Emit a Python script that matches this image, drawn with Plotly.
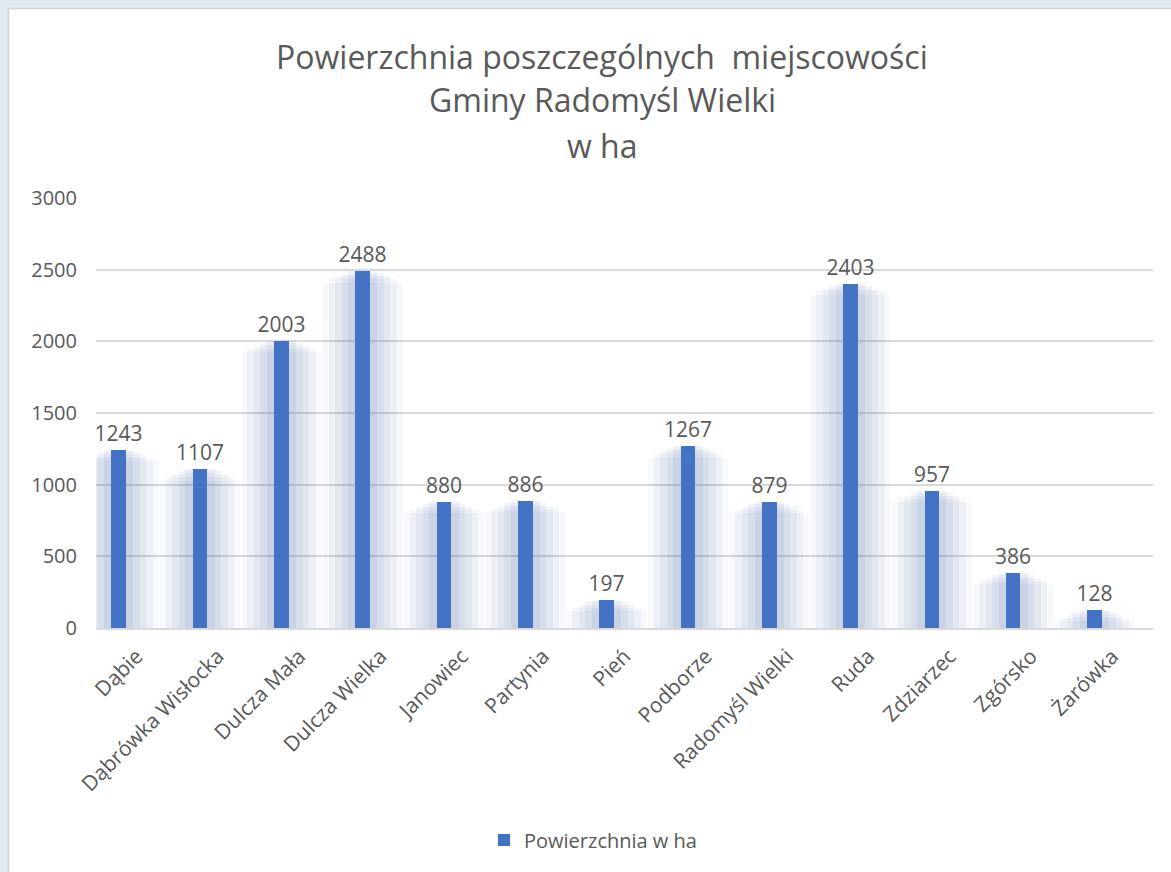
import plotly.graph_objects as go

miejscowosci = ["Dąbie", "Dąbrówka Wisłocka", "Dulcza Mała", "Dulcza Wielka", "Janowiec",
                "Partynia", "Pień", "Podborze", "Radomyśl Wielki", "Ruda", "Zdziarzec",
                "Zgórsko", "Żarówka"]
powierzchnia = [1243, 1107, 2003, 2488, 880, 886, 197, 1267, 879, 2403, 957, 386, 128]
y_ticks = [0, 500, 1000, 1500, 2000, 2500, 3000]

FONT = "Open Sans"
TXT = "#595959"
BAR_W = 0.18
BAR_C = -0.22  # środek słupka względem środka kategorii

# obszar wykresu w pikselach (do przeliczeń ramki)
L, R, T, B = 96, 1153, 198, 628
W, H = 1171, 872

fig = go.Figure()

# poświata (cień) wokół słupków - szersze warstwy trochę niższe, żeby się rozmywało
for w, a, cut in [(0.98, 0.05, 80), (0.84, 0.06, 55), (0.68, 0.07, 35), (0.52, 0.08, 15), (0.36, 0.09, 0)]:
    fig.add_trace(go.Bar(
        x=miejscowosci, y=[max(v - cut, 0) for v in powierzchnia],
        width=w, offset=BAR_C - w / 2,
        marker=dict(color="rgba(85,115,175,%s)" % a, line=dict(width=0)),
        showlegend=False, hoverinfo="skip",
    ))

fig.add_trace(go.Bar(
    x=miejscowosci, y=powierzchnia,
    width=BAR_W, offset=BAR_C - BAR_W / 2,
    marker=dict(color="#4472C4", line=dict(width=0)),
    text=powierzchnia, textposition="outside", cliponaxis=False, constraintext="none",
    textfont=dict(family=FONT, size=21, color=TXT),
    name="Powierzchnia w ha",
))

def px_x(p):
    return (p - L) / (R - L)

def px_y(p):
    return (B - p) / (B - T)

shapes = [
    # ramka okna u góry i z lewej
    dict(type="rect", xref="paper", yref="paper", x0=px_x(0), x1=px_x(W), y0=px_y(8), y1=px_y(0),
         fillcolor="#e3e9f3", line=dict(width=0), layer="below"),
    dict(type="rect", xref="paper", yref="paper", x0=px_x(0), x1=px_x(8), y0=px_y(H), y1=px_y(0),
         fillcolor="#e3e9f3", line=dict(width=0), layer="below"),
    dict(type="line", xref="paper", yref="paper", x0=px_x(8), x1=px_x(W), y0=px_y(8.5), y1=px_y(8.5),
         line=dict(color="#d4d4d4", width=1.5)),
    dict(type="line", xref="paper", yref="paper", x0=px_x(8.5), x1=px_x(8.5), y0=px_y(8), y1=px_y(H),
         line=dict(color="#d4d4d4", width=1.5)),
]

annotations = []
for txt, yy in [("Powierzchnia poszczególnych&nbsp; miejscowości", 56),
                ("Gminy Radomyśl Wielki", 100), ("w ha", 146)]:
    annotations.append(dict(text=txt, xref="paper", yref="paper", x=px_x(602), y=px_y(yy),
                            xanchor="center", yanchor="middle", showarrow=False,
                            font=dict(family=FONT, size=32, color=TXT)))

fig.update_layout(
    width=W, height=H,
    margin=dict(l=L, r=W - R, t=T, b=H - B, pad=0),
    paper_bgcolor="white", plot_bgcolor="white",
    barmode="overlay", bargap=0,
    font=dict(family=FONT, color=TXT),
    shapes=shapes, annotations=annotations,
    legend=dict(orientation="h", x=px_x(593), xanchor="center", y=px_y(840), yanchor="middle",
                font=dict(family=FONT, size=20, color=TXT)),
    xaxis=dict(range=[-0.5, len(miejscowosci) - 0.5], tickangle=-45,
               tickfont=dict(family=FONT, size=21, color=TXT),
               showgrid=False, showline=True, linecolor="#d9d9d9", linewidth=1.5,
               ticks="", ticklabelstandoff=6),
    yaxis=dict(range=[0, 3000], tickvals=y_ticks, showgrid=True, gridcolor="#d9d9d9",
               gridwidth=1.5, zeroline=False, showline=False, ticks="",
               tickfont=dict(family=FONT, size=20, color=TXT), ticklabelstandoff=18),
)

fig.write_html("out.html", config={"displayModeBar": False},
               post_script="document.body.style.margin='0';document.body.style.overflow='hidden';")
